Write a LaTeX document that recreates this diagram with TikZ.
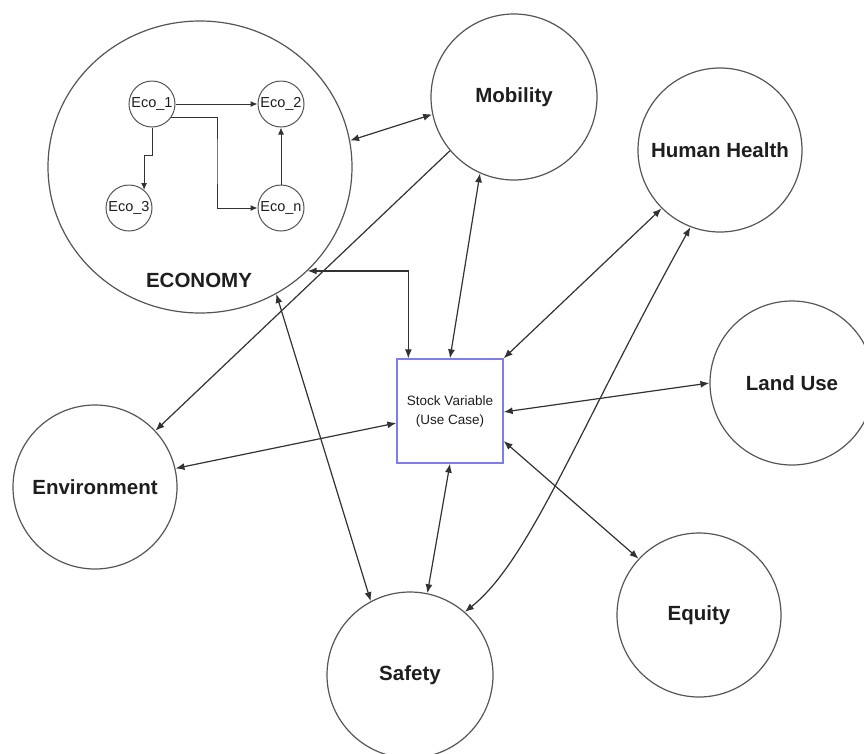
\documentclass[tikz,border=0pt]{standalone}
\usepackage{fontspec}
\setmainfont{Liberation Sans}
\usetikzlibrary{arrows.meta,shapes.geometric,calc}
\definecolor{edgec}{RGB}{50,50,50}
\definecolor{ringc}{RGB}{85,85,85}
\definecolor{boxblue}{RGB}{125,125,240}
\definecolor{ink}{RGB}{30,30,30}
\begin{document}
\begin{tikzpicture}[x=1pt,y=-1pt,
 bigc/.style={circle,draw=ringc,line width=1.2pt,minimum size=166pt,inner sep=0pt,text=ink,font=\fontsize{20.5}{24}\selectfont\bfseries},
 smallc/.style={circle,draw=ringc,line width=1pt,minimum size=46pt,inner sep=0pt,text=ink,font=\fontsize{14.5}{16}\selectfont},
 link/.style={draw=edgec,line width=1.2pt,{Latex[length=9pt,width=7pt]}-{Latex[length=9pt,width=7pt]}},
 onew/.style={draw=edgec,line width=1.2pt,-{Latex[length=9pt,width=7pt]}},
 smallw/.style={draw=edgec,line width=1pt,-{Latex[length=7pt,width=6pt]}},
]
\useasboundingbox (0,0) rectangle (864,753);

% big nodes
\node[ellipse,draw=ringc,line width=1.2pt,minimum width=304pt,minimum height=292pt,inner sep=0pt] (eco) at (200,167) {};
\node[text=ink,font=\fontsize{20.5}{24}\selectfont\bfseries] (ecolab) at (199,280) {ECONOMY};
\node[bigc] (mob) at (514,97) {Mobility};
\node[bigc,minimum size=164pt] (hh) at (720,150) {Human Health};
\node[bigc,minimum size=164pt] (lu) at (792,383) {Land Use};
\node[bigc,minimum size=164pt] (env) at (95,487) {Environment};
\node[bigc] (saf) at (410,675) {Safety};
\node[bigc,minimum size=164pt] (eq) at (699,615) {Equity};
\node[draw=boxblue,line width=1.3pt,minimum width=106pt,minimum height=104pt,inner sep=0pt,align=center,text=ink,font=\fontsize{13.5}{19}\selectfont] (stock) at (450,411) {Stock Variable\\(Use Case)};

% inner economy nodes
\node[smallc] (e1) at (152,104) {Eco\_1};
\node[smallc] (e2) at (281,104) {Eco\_2};
\node[smallc] (e3) at (129,208) {Eco\_3};
\node[smallc] (en) at (281,208) {Eco\_n};

\draw[smallw] (e1.east) -- (e2.west);
\draw[smallw] (e1.south) -- ++(0,28) -| (e3.50);
\draw[smallw] (e1.-35) -| (217,160) |- (en.west);
\draw[smallw] (en.north) -- (e2.south);

% connectors
\coordinate (stockA) at ($(stock.north west)+(12,0)$);
\coordinate (stockL) at ($(stock.west)+(0,12)$);
\coordinate (stockR) at ($(stock.east)+(0,1)$);
\coordinate (stockQ) at ($(stock.east)+(0,30)$);

\draw[link] (eco.10.6) -- (mob.192);
\draw[onew] (mob.220) -- (env.43.5);
\draw[link] (mob.246) -- (stock.north);
\draw[link] (eco.-44) -| (stockA);
\draw[link] (eco.-59.5) -- (saf.118);
\draw[link] (env.13) -- (stockL);
\draw[link] (stock.north east) -- (hh.225);
\draw[link] (stockR) -- (lu.180);
\draw[link] (stockQ) -- (eq.137.8);
\draw[link] (stock.south) -- (saf.78.7);
\draw[link] (hh.249.4) .. controls (578,430) and (530,560) .. (saf.49.6);
\end{tikzpicture}
\end{document}
